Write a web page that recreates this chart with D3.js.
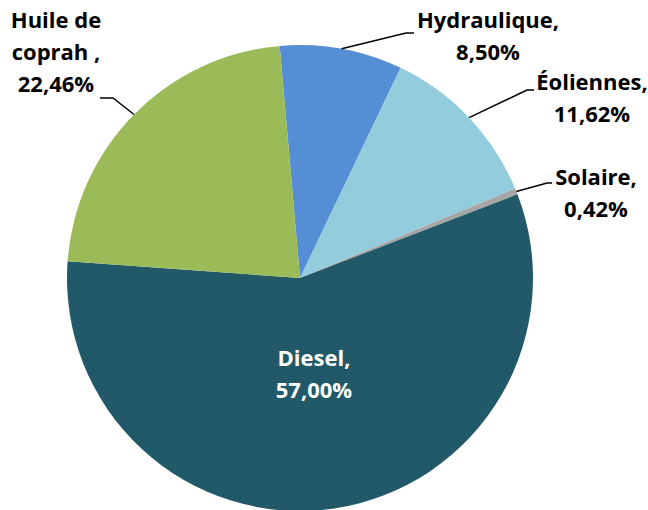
<!DOCTYPE html>
<html>
<head>
<meta charset="utf-8">
<script src="https://cdn.jsdelivr.net/npm/d3@7"></script>
<style>
  body { margin: 0; background: #fff; }
  svg text { font-family: "Open Sans", "Liberation Sans", sans-serif; font-weight: bold; }
</style>
</head>
<body>
<div id="vis"></div>
<script>
//Data of the chart
var categories = ["Hydraulique", "Éoliennes", "Solaire", "Diesel", "Huile de coprah"];
var shares = [8.50, 11.62, 0.42, 57.00, 22.46];
var labelLines = [
  ["Hydraulique,", "8,50%"],
  ["Éoliennes,", "11,62%"],
  ["Solaire,", "0,42%"],
  ["Diesel,", "57,00%"],
  ["Huile de", "coprah ,", "22,46%"]
];
var colors = ["#558ED5", "#93CDDD", "#A6A6A6", "#215968", "#9BBB59"];

//Layout of the labels (text centre x, first baseline y, elbow of leader line)
var labelLayout = [
  {x: 488, y: 28, elbow: [406, 33], end: [414, 33]},
  {x: 592, y: 90, elbow: [527, 90], end: [534, 90]},
  {x: 596, y: 185, elbow: [547, 183], end: [552, 183]},
  {x: 314, y: 366, elbow: null},
  {x: 56, y: 28, elbow: [113, 98], end: [100, 98]}
];

var width = 648, height = 510;
var cx = 300, cy = 278, radius = 233;
var lineHeight = 32;

var svg = d3.select("#vis").append("svg")
  .attr("width", width)
  .attr("height", height);

var pie = d3.pie()
  .sort(null)
  .value(function(d) { return d; })
  .startAngle(-5 * Math.PI / 180)
  .endAngle(355 * Math.PI / 180);

var arcs = pie(shares);

var arc = d3.arc().innerRadius(0).outerRadius(radius);

var g = svg.append("g").attr("transform", "translate(" + cx + "," + cy + ")");

g.selectAll("path")
  .data(arcs)
  .enter().append("path")
  .attr("d", arc)
  .attr("fill", function(d, i) { return colors[i]; });

//Leader lines
arcs.forEach(function(d, i) {
  var L = labelLayout[i];
  if (!L.elbow) return;
  var mid = (d.startAngle + d.endAngle) / 2;
  var p0 = [cx + radius * Math.sin(mid), cy - radius * Math.cos(mid)];
  svg.append("polyline")
    .attr("points", [p0, L.elbow, L.end].map(function(p) { return p.join(","); }).join(" "))
    .attr("fill", "none")
    .attr("stroke", "#000")
    .attr("stroke-width", 1.5);
});

//Labels
labelLines.forEach(function(lines, i) {
  var L = labelLayout[i];
  var t = svg.append("text")
    .attr("text-anchor", "middle")
    .attr("font-size", 22)
    .attr("fill", i === 3 ? "#fff" : "#000");
  lines.forEach(function(s, j) {
    t.append("tspan")
      .attr("x", L.x)
      .attr("y", L.y + j * lineHeight)
      .text(s);
  });
});
</script>
</body>
</html>
